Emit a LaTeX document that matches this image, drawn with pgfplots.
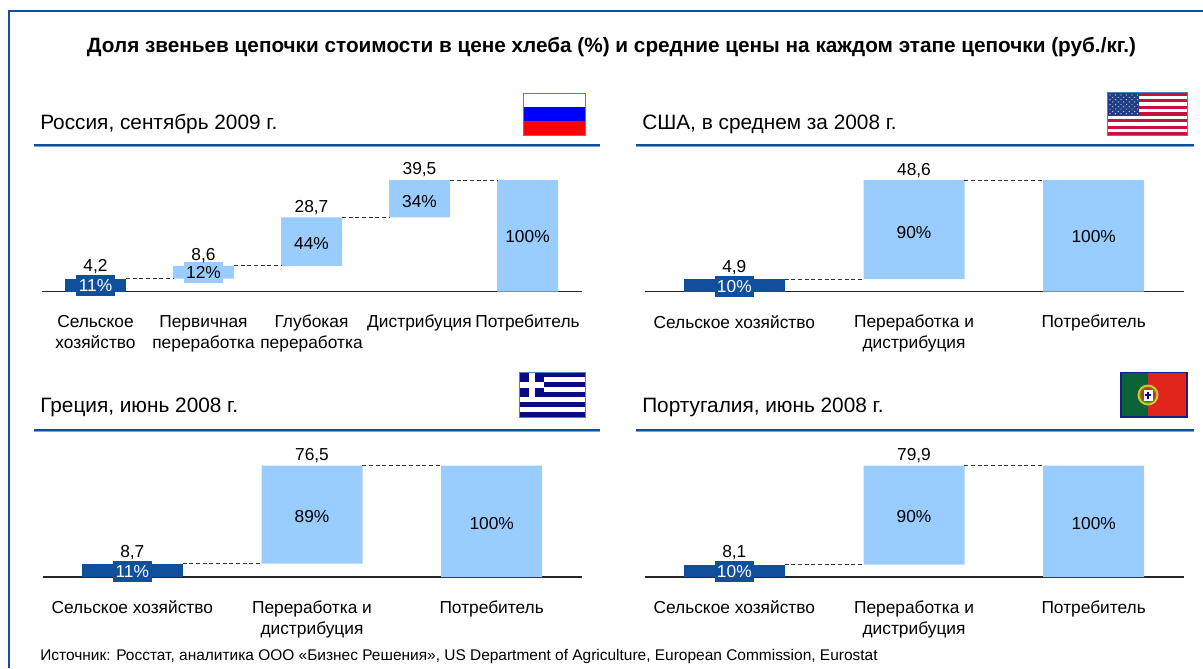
\documentclass[border=0pt]{standalone}
\usepackage{pgfplots}
\pgfplotsset{compat=1.18}
\usepackage{fontspec}
\setmainfont{Liberation Sans}
\definecolor{dk}{HTML}{0F4F9B}
\definecolor{lt}{HTML}{99CCFF}
\definecolor{frm}{HTML}{0F4F9B}
\definecolor{rulelt}{HTML}{7FA3CE}
\definecolor{flagb}{HTML}{4F81BD}
\definecolor{usr}{HTML}{C4123C}
\definecolor{usb}{HTML}{1F3F85}
\definecolor{grb}{HTML}{0A0A82}
\definecolor{ptg}{HTML}{0B6236}
\definecolor{ptr}{HTML}{E0251C}
\newcommand{\lbl}{\fontsize{13}{15.75}\selectfont}
\pgfplotsset{
 panel/.style={
  scale only axis, width=540*0.75pt, height=111.5*0.75pt,
  ymin=0, ymax=100, clip=false,
  axis x line=bottom, axis y line=none,
  axis line style={-, line width=1.1pt, color=black!85},
  xtick=data, major tick length=0pt,
  xticklabel style={align=center, font=\lbl, anchor=north, yshift=-14.25pt},
  anchor=south west,
 },
 base/.style={ybar stacked, bar width=#1, draw=none, fill=none, forget plot},
 dkbar/.style={ybar stacked, bar width=#1, draw=none, fill=dk, forget plot},
 ltbar/.style={ybar stacked, bar width=#1, draw=none, fill=lt, forget plot},
 conn/.style={densely dashed, line width=0.55pt, color=black!80, mark=none, forget plot},
 txt/.style={draw=none, mark=none, forget plot, point meta=explicit symbolic, nodes near coords,
   nodes near coords align={center},
   every node near coord/.append style={font=\lbl, text=black, inner sep=0pt, anchor=center, yshift=-0.75pt}},
 val/.style={draw=none, mark=none, forget plot, point meta=explicit symbolic, nodes near coords,
   nodes near coords align={center},
   every node near coord/.append style={font=\lbl, text=black, inner sep=0pt, anchor=center, yshift=-1.6pt}},
 boxd/.style={draw=none, mark=none, forget plot, point meta=explicit symbolic, nodes near coords,
   nodes near coords align={center},
   every node near coord/.append style={font=\lbl, text=white, fill=dk, inner sep=0pt, anchor=center, minimum width=39*0.75pt, minimum height=21*0.75pt}},
 boxl/.style={draw=none, mark=none, forget plot, point meta=explicit symbolic, nodes near coords,
   nodes near coords align={center},
   every node near coord/.append style={font=\lbl, text=black, fill=lt, inner sep=0pt, anchor=center, minimum width=39*0.75pt, minimum height=21*0.75pt}},
}
\begin{document}
\begin{tikzpicture}
\begin{scope}[x=0.75pt,y=-0.75pt]
\path[use as bounding box] (0,0) rectangle (1203,668);
% frame
\draw[frm, line width=1.5pt] (9,668) -- (9,11) -- (1203,11);
% title
\node[font=\bfseries\fontsize{15.55}{18}\selectfont, anchor=center] at (611.5,47) {Доля звеньев цепочки стоимости в цене хлеба (\%) и средние цены на каждом этапе цепочки (руб./кг.)};
% panel titles
\foreach \tx/\ty/\tt in {40/124/{Россия, сентябрь 2009 г.},642/124/{США, в среднем за 2008 г.},40/407/{Греция, июнь 2008 г.},642/407/{Португалия, июнь 2008 г.}}{
 \node[font=\fontsize{15.6}{18}\selectfont, anchor=west, inner sep=0pt] at (\tx,\ty) {\tt};
}
% rules
\foreach \a/\b/\c in {34/600/145,636/1194/145,34/600/430,636/1194/430}{
 \draw[rulelt, line width=0.75pt] (\a,\c+1.8) -- (\b,\c+1.8);
 \draw[dk, line width=2pt] (\a,\c) -- (\b,\c);
}
% source
\node[font=\fontsize{11.6}{13}\selectfont, anchor=west, inner sep=0pt] at (40,656.5) {Источник: Росстат, аналитика ООО «Бизнес Решения», US Department of Agriculture, European Commission, Eurostat};
% Russian flag
\fill[white] (523,93) rectangle (585,107);
\fill[blue] (523,107) rectangle (585,121);
\fill[red] (523,121) rectangle (585,135);
\draw[flagb, line width=0.7pt] (523,93) rectangle (585,135);
% US flag
\fill[white] (1107,92.5) rectangle (1187,135.5);
\foreach \i in {0,2,...,12}{
 \fill[usr] (1107,92.5+\i*3.31) rectangle (1187,92.5+\i*3.31+3.31);
}
\fill[usb] (1107,92.5) rectangle (1139,115.6);
\foreach \r in {0,...,8}{
 \pgfmathtruncatemacro{\odd}{mod(\r,2)}
 \foreach \s in {0,...,5}{
  \ifnum\odd=0
   \fill[white!85!usb] (1110+\s*5.5,95+\r*2.35) circle (0.6);
  \else
   \ifnum\s<5 \fill[white!85!usb] (1112.7+\s*5.5,95+\r*2.35) circle (0.6); \fi
  \fi
 }
}
\draw[flagb, line width=0.7pt] (1107,92.5) rectangle (1187,135.5);
% Greek flag
\fill[grb] (519,372.5) rectangle (585,417);
\foreach \i in {1,3,5,7}{
 \fill[white] (519,372.5+\i*4.94) rectangle (585,372.5+\i*4.94+4.94);
}
\fill[grb] (519,372.5) rectangle (544,397.2);
\fill[white] (529,372.5) rectangle (535,397.2);
\fill[white] (519,382) rectangle (544,388);
\draw[flagb, line width=0.7pt] (519,372.5) rectangle (585,417);
% Portuguese flag
\fill[ptr] (1121,372.5) rectangle (1187,417);
\fill[ptg] (1121,372.5) rectangle (1148,417);
\fill[yellow!80!black] (1148,395) circle (10.5);
\fill[ptg!50!yellow!80!black] (1148,395) circle (8.5);
\fill[ptr] (1148,395) circle (7);
\fill[white] (1143.5,389.5) rectangle (1152.5,400.5);
\fill[blue!55!black] (1146.8,391.5) rectangle (1149.2,398.5);
\fill[blue!55!black] (1145,394) rectangle (1151,396);
\draw[flagb!40!blue!60!black, line width=0.8pt] (1121,372.5) rectangle (1187,417);
\end{scope}

% ---- Russia
\begin{axis}[panel, at={(41.5*0.75pt,-291.5*0.75pt)}, xmin=-0.5, xmax=4.5,
  xticklabels={{Сельское\\хозяйство},{Первичная\\переработка},{Глубокая\\переработка},Дистрибуция,Потребитель}]
\addplot[base=45.75pt] coordinates {(0,0)(1,11.5)(2,23)(3,66.5)(4,0)};
\addplot[dkbar=45.75pt] coordinates {(0,11.5)(1,0)(2,0)(3,0)(4,0)};
\addplot[ltbar=45.75pt] coordinates {(0,0)(1,11.5)(2,43.5)(3,33.5)(4,100)};
\addplot[conn] coordinates {(0.282,11.5)(0.718,11.5)};
\addplot[conn] coordinates {(1.282,23)(1.718,23)};
\addplot[conn] coordinates {(2.282,66.5)(2.718,66.5)};
\addplot[conn] coordinates {(3.282,100)(3.718,100)};
\addplot[boxd] coordinates {(0,5)[11\%]};
\addplot[boxl] coordinates {(1,16.6)[12\%]};
\addplot[txt] coordinates {(2,43.5)[44\%](3,82)[34\%](4,49.8)[100\%]};
\addplot[val] coordinates {(0,24.7)[{4,2}](1,34.5)[{8,6}](2,77.6)[{28,7}](3,111.7)[{39,5}]};
\end{axis}

% ---- USA
\begin{axis}[panel, width=539*0.75pt, at={(644.5*0.75pt,-291.5*0.75pt)}, xmin=-0.5, xmax=2.5,
  xticklabels={Сельское хозяйство,{Переработка и\\дистрибуция},Потребитель}]
\addplot[base=75.75pt] coordinates {(0,0)(1,11)(2,0)};
\addplot[dkbar=75.75pt] coordinates {(0,11)(1,0)(2,0)};
\addplot[ltbar=75.75pt] coordinates {(0,0)(1,89)(2,100)};
\addplot[conn] coordinates {(0.28,11)(0.72,11)};
\addplot[conn] coordinates {(1.28,100)(1.72,100)};
\addplot[boxd] coordinates {(0,4.5)[10\%]};
\addplot[txt] coordinates {(1,54)[90\%](2,49.8)[100\%]};
\addplot[val] coordinates {(0,23)[{4,9}](1,110.8)[{48,6}]};
\end{axis}

% ---- Greece
\begin{axis}[panel, width=539*0.75pt, at={(42.5*0.75pt,-577*0.75pt)}, xmin=-0.5, xmax=2.5,
  xticklabels={Сельское хозяйство,{Переработка и\\дистрибуция},Потребитель}]
\addplot[base=75.75pt] coordinates {(0,0)(1,12)(2,0)};
\addplot[dkbar=75.75pt] coordinates {(0,12)(1,0)(2,0)};
\addplot[ltbar=75.75pt] coordinates {(0,0)(1,88)(2,100)};
\addplot[conn] coordinates {(0.28,12)(0.72,12)};
\addplot[conn] coordinates {(1.28,100)(1.72,100)};
\addplot[boxd] coordinates {(0,5)[11\%]};
\addplot[txt] coordinates {(1,54.7)[89\%](2,49.3)[100\%]};
\addplot[val] coordinates {(0,24.2)[{8,7}](1,111.2)[{76,5}]};
\end{axis}

% ---- Portugal
\begin{axis}[panel, width=539*0.75pt, at={(644.5*0.75pt,-577*0.75pt)}, xmin=-0.5, xmax=2.5,
  xticklabels={Сельское хозяйство,{Переработка и\\дистрибуция},Потребитель}]
\addplot[base=75.75pt] coordinates {(0,0)(1,11)(2,0)};
\addplot[dkbar=75.75pt] coordinates {(0,11)(1,0)(2,0)};
\addplot[ltbar=75.75pt] coordinates {(0,0)(1,89)(2,100)};
\addplot[conn] coordinates {(0.28,11)(0.72,11)};
\addplot[conn] coordinates {(1.28,100)(1.72,100)};
\addplot[boxd] coordinates {(0,4.5)[10\%]};
\addplot[txt] coordinates {(1,54.7)[90\%](2,49.3)[100\%]};
\addplot[val] coordinates {(0,24.2)[{8,1}](1,111.2)[{79,9}]};
\end{axis}
\end{tikzpicture}
\end{document}
